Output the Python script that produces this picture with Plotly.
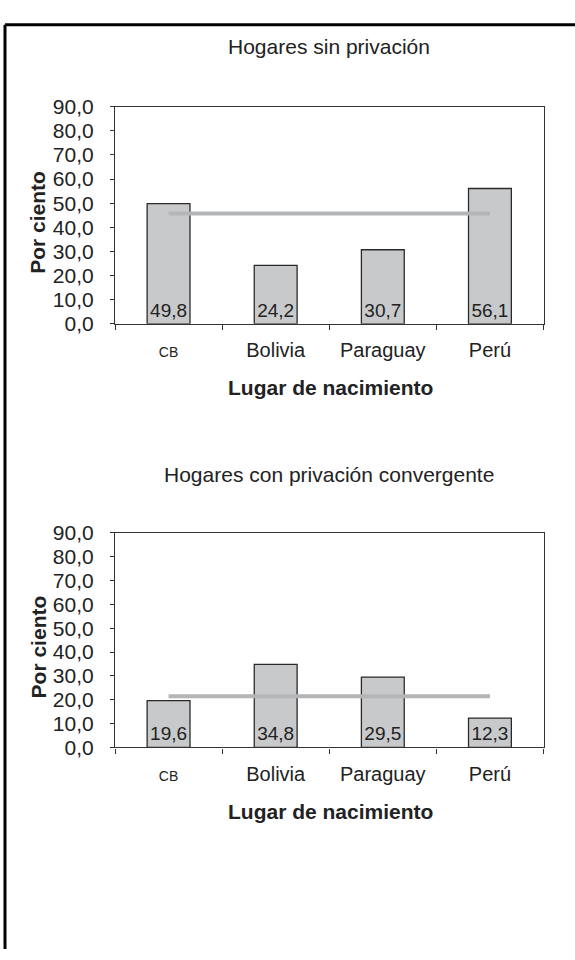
import plotly.graph_objects as go

categorias = ["CB", "Bolivia", "Paraguay", "Perú"]
etiquetas = ['<span style="font-size:14px">CB</span>', "Bolivia", "Paraguay", "Perú"]
sin_privacion = [49.8, 24.2, 30.7, 56.1]
con_privacion = [19.6, 34.8, 29.5, 12.3]
promedio_sin = 45.7
promedio_con = 21.5
ticks_y = [0, 10, 20, 30, 40, 50, 60, 70, 80, 90]

W, H = 575, 960
FONT = "Liberation Sans, Arial, sans-serif"
TXT = "#222222"


def px_x(p):
    return p / W


def px_y(p):
    return 1 - p / H


def fmt(v):
    return f"{v:.1f}".replace(".", ",")


fig = go.Figure()

paneles = [
    (sin_privacion, promedio_sin, "x", "y"),
    (con_privacion, promedio_con, "x2", "y2"),
]

for valores, promedio, xa, ya in paneles:
    fig.add_trace(
        go.Bar(
            x=categorias,
            y=valores,
            xaxis=xa,
            yaxis=ya,
            marker=dict(color="#c8c9cb", line=dict(color="#2a2a2a", width=1.3)),
            text=[fmt(v) for v in valores],
            textposition="inside",
            insidetextanchor="start",
            textangle=0,
            constraintext="none",
            insidetextfont=dict(family=FONT, size=19, color=TXT),
            showlegend=False,
            hoverinfo="skip",
        )
    )
    fig.add_trace(
        go.Scatter(
            x=[categorias[0], categorias[-1]],
            y=[promedio, promedio],
            xaxis=xa,
            yaxis=ya,
            mode="lines",
            line=dict(color="#b3b5b7", width=4),
            showlegend=False,
            hoverinfo="skip",
        )
    )

x_common = dict(
    type="category",
    domain=[px_x(115), px_x(543.5)],
    showline=True,
    linecolor="#333333",
    linewidth=1.2,
    mirror=True,
    showgrid=False,
    zeroline=False,
    ticks="outside",
    ticklen=5,
    tickcolor="#333333",
    tickson="boundaries",
    tickvals=categorias,
    ticktext=etiquetas,
    ticklabelstandoff=8,
    tickfont=dict(family=FONT, size=20, color=TXT),
)
y_common = dict(
    range=[0, 90],
    tickvals=ticks_y,
    tickformat=".1f",
    showline=True,
    linecolor="#333333",
    linewidth=1.2,
    mirror=True,
    showgrid=False,
    zeroline=False,
    ticks="outside",
    ticklen=4,
    tickcolor="#333333",
    ticklabelstandoff=12,
    tickfont=dict(family=FONT, size=21, color=TXT),
)

fig.update_layout(
    width=W,
    height=H,
    margin=dict(l=0, r=0, t=0, b=0),
    paper_bgcolor="white",
    plot_bgcolor="white",
    separators=", ",
    bargap=0.6,
    uniformtext=dict(minsize=19, mode="show"),
    xaxis=dict(x_common, anchor="y"),
    yaxis=dict(y_common, anchor="x", domain=[px_y(319.5), px_y(97)]),
    xaxis2=dict(x_common, anchor="y2"),
    yaxis2=dict(y_common, anchor="x2", domain=[px_y(753.5), px_y(533.5)]),
)

textos = [
    ("Hogares sin privación", 329, 35, False, 21, 0),
    ("Hogares con privación convergente", 329, 474, False, 21, 0),
    ("Lugar de nacimiento", 330, 385, True, 21, 0),
    ("Lugar de nacimiento", 330, 819, True, 21, 0),
    ("Por ciento", 38, 216, True, 21, -90),
    ("Por ciento", 38, 651, True, 21, -90),
]
for texto, x, y, negrita, size, ang in textos:
    fig.add_annotation(
        text=f"<b>{texto}</b>" if negrita else texto,
        x=px_x(x),
        y=px_y(y),
        xref="paper",
        yref="paper",
        xanchor="center",
        yanchor="middle",
        showarrow=False,
        textangle=ang,
        font=dict(family=FONT, size=size, color=TXT),
    )

# marco exterior (solo se ven el borde superior e izquierdo)
fig.add_shape(type="line", xref="paper", yref="paper",
              x0=px_x(5), x1=1.0, y0=px_y(13), y1=px_y(13),
              line=dict(color="black", width=3))
fig.add_shape(type="line", xref="paper", yref="paper",
              x0=px_x(5), x1=px_x(5), y0=px_y(13), y1=0,
              line=dict(color="black", width=3))

# sin el margen por defecto del navegador ni la barra de herramientas
fig.write_html(
    "out.html",
    config={"displayModeBar": False},
    post_script="document.body.style.margin = '0';",
)
